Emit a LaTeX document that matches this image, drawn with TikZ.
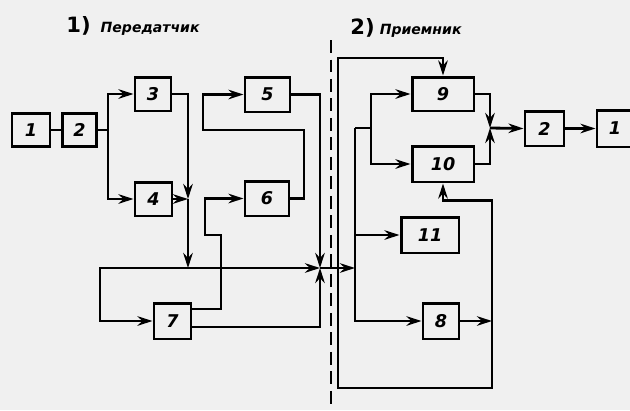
\documentclass[tikz,border=0pt]{standalone}
\usepackage{fontspec}
\setmainfont{DejaVu Sans}
\usetikzlibrary{arrows.meta,positioning,calc}
\tikzset{
  blk/.style={draw=black, line width=1.7pt, inner sep=0pt, font=\itshape\bfseries},
  wire/.style={line width=1.6pt},
  arrow/.style={-{Stealth[length=3mm,width=1.9mm]}, line width=1.6pt},
  sep/.style={line width=1.6pt, dash pattern=on 0.26cm off 0.13cm},
}

\begin{document}
\begin{tikzpicture}[x=0.02cm,y=-0.02cm]
      \fill[black!6] (0,0) rectangle (630,410);
      \useasboundingbox (0,0) rectangle (630,410);

      % titles
      \node (t1) at (133,26) {{\large\bfseries 1)}\hspace{2mm}{\footnotesize\bfseries\itshape Передатчик}};
      \node (t2) at (406,28) {{\large\bfseries 2)}\hspace{1mm}{\footnotesize\bfseries\itshape Приемник}};

      % separating line
      \draw[sep] (331,40) -- (331,410);

      % transmitter blocks
      \node[blk, minimum width=0.76cm, minimum height=0.66cm] (a1) at (31,130) {1};
      \node[blk, minimum width=0.68cm, minimum height=0.66cm] (a2) at (79.5,130) {2};
      \node[blk, minimum width=0.72cm, minimum height=0.68cm] (b3) at (153,94) {3};
      \node[blk, minimum width=0.74cm, minimum height=0.68cm] (b4) at (153.5,199) {4};
      \node[blk, minimum width=0.9cm, minimum height=0.7cm] (b5) at (267.5,94.5) {5};
      \node[blk, minimum width=0.88cm, minimum height=0.7cm] (b6) at (267,198.5) {6};
      \node[blk, minimum width=0.74cm, minimum height=0.72cm] (b7) at (172.5,321) {7};

      % receiver blocks
      \node[blk, minimum width=1.24cm, minimum height=0.68cm] (b9) at (443,94) {9};
      \node[blk, minimum width=1.24cm, minimum height=0.72cm] (b10) at (443,164) {10};
      \node[blk, minimum width=1.16cm, minimum height=0.72cm] (b11) at (430,235) {11};
      \node[blk, minimum width=0.72cm, minimum height=0.72cm] (b8) at (441,321) {8};
      \node[blk, minimum width=0.78cm, minimum height=0.7cm] (c2) at (544.5,128.5) {2};
      \node[blk, minimum width=0.72cm, minimum height=0.74cm] (c1) at (615,128.5) {1};

      % junction points
      \coordinate (s1) at (108,130);
      \coordinate (m1) at (188,199);
      \coordinate (m2) at (188,268);
      \coordinate (lp) at (100,268);
      \coordinate (jn) at (320,268);
      \coordinate (bus) at (355,268);
      \coordinate (bt) at (355,128);
      \coordinate (bs) at (371,128);
      \coordinate (fb) at (492,321);
      \coordinate (lb) at (492,388);
      \coordinate (lt) at (338,58);
      \coordinate (jo) at (490,128);

      % transmitter
      \draw[wire] (a1) -- (a2);
      \draw[wire] (a2) -- (s1);
      \draw[arrow] (s1) |- (b3.west);
      \draw[arrow] (s1) |- (b4.west);
      \draw[arrow] (b3.east) -| (m1);
      \draw[arrow] (b4.east) -- (m1);
      \draw[arrow] (m1) -- (m2);
      \draw[arrow] (m2) -- (jn);
      \draw[arrow] (m2) -- (lp) |- (b7.west);
      \draw[arrow] ($(b7.east)+(0,-12)$) -| (221,235) -- (205,235) |- (b6.west);
      \draw[arrow] ($(b7.east)+(0,6)$) -| (jn);
      \draw[arrow] (b6.east) -| (304,130) -- (203,130) |- (b5.west);
      \draw[arrow] (b5.east) -| (jn);
      \draw[arrow] (jn) -- (bus);

      % receiver
      \draw[wire] (bt) -- (bs);
      \draw[arrow] (bs) |- (b9.west);
      \draw[arrow] (bs) |- (b10.west);
      \draw[arrow] (bt) |- (b11.west);
      \draw[arrow] (bt) |- (b8.west);
      \draw[arrow] (b8.east) -- (fb);
      \draw[arrow] (fb) |- ($(b10.south)+(0,17)$) -- (b10.south);
      \draw[arrow] (fb) -- (lb) -| (lt) -| (b9.north);
      \draw[arrow] (b9.east) -| (jo);
      \draw[arrow] (b10.east) -| (jo);
      \draw[arrow] (jo) -- (c2.west);
      \draw[arrow] (c2.east) -- (c1.west);
    \end{tikzpicture}
\end{document}
